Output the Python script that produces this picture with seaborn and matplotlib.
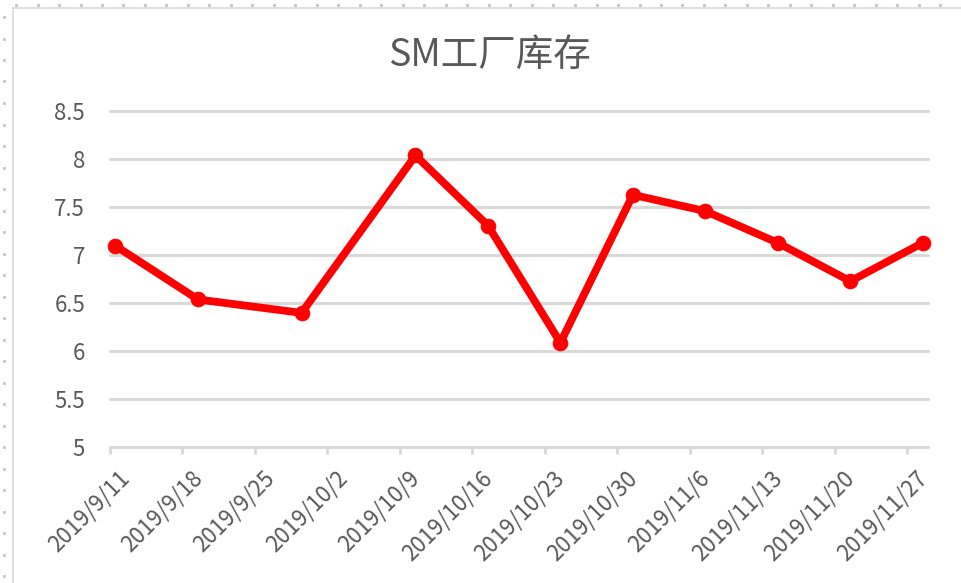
import matplotlib
matplotlib.use("Agg")
import matplotlib.pyplot as plt
import matplotlib.transforms as mtransforms
import seaborn as sns
import pandas as pd
import numpy as np
from matplotlib.lines import Line2D

sns.set_theme(style="white")
plt.rcParams['font.family'] = ['Noto Sans CJK SC', 'DejaVu Sans']

title = "SM工厂库存"
dates = ["2019-09-11", "2019-09-19", "2019-09-29", "2019-10-10", "2019-10-17",
         "2019-10-24", "2019-10-31", "2019-11-07", "2019-11-14", "2019-11-21",
         "2019-11-28"]
values = [7.10, 6.54, 6.40, 8.04, 7.31, 6.09, 7.63, 7.46, 7.13, 6.73, 7.13]
tick_dates = ["2019-09-11", "2019-09-18", "2019-09-25", "2019-10-02", "2019-10-09",
              "2019-10-16", "2019-10-23", "2019-10-30", "2019-11-06", "2019-11-13",
              "2019-11-20", "2019-11-27"]
tick_labels = ["2019/9/11", "2019/9/18", "2019/9/25", "2019/10/2", "2019/10/9",
               "2019/10/16", "2019/10/23", "2019/10/30", "2019/11/6", "2019/11/13",
               "2019/11/20", "2019/11/27"]
y_ticks = [5, 5.5, 6, 6.5, 7, 7.5, 8, 8.5]
y_labels = ["5", "5.5", "6", "6.5", "7", "7.5", "8", "8.5"]

df = pd.DataFrame({"date": pd.to_datetime(dates), "value": values})

W, H = 962, 583
fig = plt.figure(figsize=(W / 100, H / 100), dpi=100)
fig.patch.set_facecolor("white")

# chart border
fig.add_artist(Line2D([13 / W, 13 / W], [0, 1 - 8 / H], transform=fig.transFigure,
                      color="#d9d9d9", lw=1.2))
fig.add_artist(Line2D([13 / W, 1], [1 - 8 / H, 1 - 8 / H], transform=fig.transFigure,
                      color="#d9d9d9", lw=1.2))
# faint handle dots
for yy in np.arange(17, H, 21.5):
    fig.add_artist(Line2D([4 / W], [1 - yy / H], transform=fig.transFigure, marker="s",
                          ms=1.2, color="#c8c8c8", lw=0))
for xx in np.arange(16, W, 21.5):
    fig.add_artist(Line2D([xx / W], [1 - 5 / H], transform=fig.transFigure, marker="s",
                          ms=1.2, color="#c8c8c8", lw=0))

left, right = 110 / W, 928 / W
bottom, top = (H - 447.3) / H, (H - 111.3) / H
ax = fig.add_axes([left, bottom, right - left, top - bottom])
ax.set_facecolor("white")

half = pd.Timedelta(hours=12)
tick_pos = pd.to_datetime(tick_dates) - half

for yv in y_ticks:
    ax.axhline(yv, color="#d9d9d9", lw=2.3, zorder=0, clip_on=False)

sns.lineplot(data=df, x="date", y="value", ax=ax, color="#ff0000", lw=5.6,
             marker="o", markersize=10.5, markeredgecolor="#ff0000",
             markerfacecolor="#ff0000", zorder=3, clip_on=False)

ax.set_xlim(pd.to_datetime(dates[0]) - half, pd.to_datetime(dates[-1]) + half)
ax.set_ylim(5, 8.5)
ax.set_xticks(tick_pos)
ax.set_xticklabels(tick_labels, rotation=45, ha="right", va="top",
                   rotation_mode="anchor", fontsize=16, color="#595959")
ax.set_yticks(y_ticks)
ax.set_yticklabels(y_labels, fontsize=16, color="#595959")
ax.tick_params(axis="y", length=0, pad=18)
ax.tick_params(axis="x", length=5, width=2.0, color="#d9d9d9", pad=9, direction="out",
               bottom=True)
off = mtransforms.ScaledTranslation(8 / 100, 0, fig.dpi_scale_trans)
for lab in ax.get_xticklabels():
    lab.set_transform(lab.get_transform() + off)
for s in ax.spines.values():
    s.set_visible(False)
ax.set_xlabel("")
ax.set_ylabel("")

fig.text(490 / W, 1 - 55 / H, title, ha="center", va="center", fontsize=27,
         color="#595959")

fig.savefig("out.png", dpi=100, facecolor="white")
